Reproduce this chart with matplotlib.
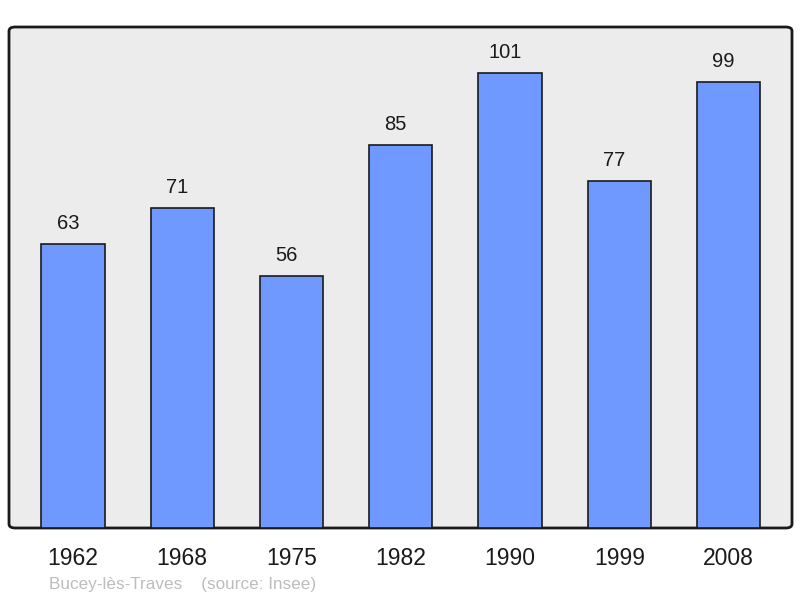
import matplotlib
matplotlib.use("Agg")
import matplotlib.pyplot as plt
from matplotlib.patches import FancyBboxPatch

years = ["1962", "1968", "1975", "1982", "1990", "1999", "2008"]
population = [63, 71, 56, 85, 101, 77, 99]
footer = "Bucey-lès-Traves    (source: Insee)"

plt.rcParams["font.family"] = ["Liberation Sans", "DejaVu Sans"]

fig = plt.figure(figsize=(8.0, 5.98), dpi=100)
ax = fig.add_axes([9 / 800, 1 - 528 / 598, 783 / 800, 501 / 598])
ax.set_facecolor("none")

# rounded frame behind the bars
frame = FancyBboxPatch(
    (0, 0), 1, 1,
    boxstyle="round,pad=0,rounding_size=0.008",
    transform=ax.transAxes,
    facecolor="#ececec",
    edgecolor="#1a1a1a",
    linewidth=2,
    zorder=0,
    clip_on=False,
)
ax.add_patch(frame)

x = range(len(years))
ax.bar(x, population, width=0.58, color="#7099ff", edgecolor="#1a1a1a",
       linewidth=1.2, zorder=2)

for xi, value in zip(x, population):
    ax.annotate(str(value), (xi, value), xytext=(-3.6, 8), textcoords="offset points",
                ha="center", va="bottom", fontsize=14.5, color="#1a1a1a")

ax.set_xlim(-0.585, len(years) - 1 + 0.58)
ax.set_ylim(0, 111.2)
ax.set_xticks(list(x))
ax.set_xticklabels(years, fontsize=16.5, color="#1a1a1a")
ax.tick_params(axis="x", length=0, pad=14)
ax.set_yticks([])
for spine in ax.spines.values():
    spine.set_visible(False)

fig.text(49 / 800, 1 - 584 / 598, footer, fontsize=12.3, color="#bdbdbd",
         ha="left", va="center")

fig.savefig("out.png", dpi=100)
